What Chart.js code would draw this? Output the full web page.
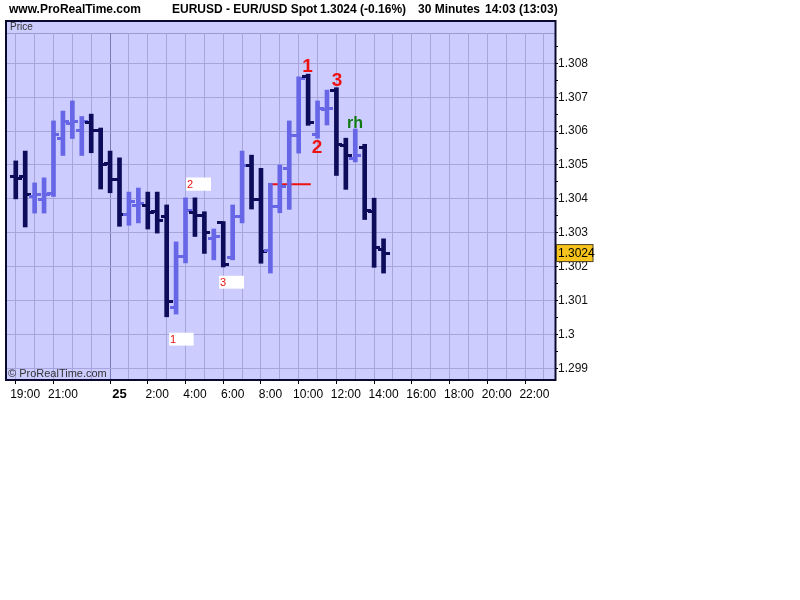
<!DOCTYPE html>
<html><head><meta charset="utf-8">
<script src="https://cdn.jsdelivr.net/npm/chart.js@4/dist/chart.umd.min.js"></script>
<style>html,body{margin:0;padding:0;background:#fff;}canvas{display:block;}</style>
</head><body><canvas id="c" width="800" height="600"></canvas>
<script>
// ---- data (30-minute OHLC bars, EUR/USD) ----
const times  = ["18:30","19:00","19:30","20:00","20:30","21:00","21:30","22:00","22:30","23:00","23:30",
                "00:00","00:30","01:00","01:30","02:00","02:30","03:00","03:30","04:00","04:30","05:00",
                "05:30","06:00","06:30","07:00","07:30","08:00","08:30","09:00","09:30","10:00","10:30",
                "11:00","11:30","12:00","12:30","13:00","13:30","14:00"];
const opens  = [1.30465,1.30465,1.30406,1.30397,1.30417,1.30577,1.30621,1.30603,1.30624,1.30603,1.30503,
                1.30456,1.30353,1.30379,1.30379,1.30364,1.30347,1.30078,1.30229,1.30361,1.30350,1.30282,
                1.30329,1.30226,1.30347,1.30497,1.30397,1.30249,1.30376,1.30491,1.30586,1.30760,1.30591,
                1.30665,1.30721,1.30556,1.30518,1.30553,1.30364,1.30252];
const highs  = [1.30512,1.30541,1.30447,1.30462,1.30630,1.30659,1.30689,1.30643,1.30650,1.30609,1.30541,
                1.30521,1.30420,1.30432,1.30420,1.30420,1.30382,1.30273,1.30403,1.30403,1.30362,1.30311,
                1.30333,1.30382,1.30541,1.30529,1.30490,1.30446,1.30500,1.30630,1.30760,1.30768,1.30689,
                1.30721,1.30728,1.30579,1.30606,1.30561,1.30402,1.30282];
const lows   = [1.30400,1.30317,1.30358,1.30358,1.30407,1.30528,1.30578,1.30528,1.30536,1.30429,1.30418,
                1.30319,1.30322,1.30329,1.30311,1.30299,1.30052,1.30060,1.30211,1.30289,1.30239,1.30220,
                1.30199,1.30220,1.30329,1.30370,1.30210,1.30181,1.30359,1.30369,1.30535,1.30617,1.30579,
                1.30618,1.30469,1.30428,1.30509,1.30339,1.30198,1.30181];
const closes = [1.30459,1.30412,1.30412,1.30412,1.30589,1.30627,1.30627,1.30627,1.30603,1.30500,1.30456,
                1.30353,1.30391,1.30385,1.30361,1.30335,1.30096,1.30229,1.30367,1.30350,1.30302,1.30288,
                1.30205,1.30347,1.30497,1.30397,1.30246,1.30376,1.30435,1.30586,1.30754,1.30624,1.30668,
                1.30668,1.30559,1.30527,1.30527,1.30367,1.30255,1.30240];
const lastPrice = 1.3024;

// x tick labels (hours relative to midnight of the 25th)
const xTickHours = [-5,-3,0,2,4,6,8,10,12,14,16,18,20,22];
const xTickText  = ["19:00","21:00","25","2:00","4:00","6:00","8:00","10:00","12:00","14:00","16:00","18:00","20:00","22:00"];
// y tick labels
const yTickValues = [1.299,1.300,1.301,1.302,1.303,1.304,1.305,1.306,1.307,1.308];
const yTickText   = ["1.299","1.3","1.301","1.302","1.303","1.304","1.305","1.306","1.307","1.308"];

// wave annotations
const markLabels = ["1","2","3","rh"];
const markHours  = [9.97,10.47,11.53,12.49];
const markPrices = [1.30789,1.30552,1.30748,1.30621];
const markColors = ["#ee1111","#ee1111","#ee1111","#117a11"];
// small boxed labels
const boxLabels = ["2","3","1"];
const boxHourStart = [3.53,5.28,2.63];
const boxHourEnd   = [4.85,6.60,3.93];
const boxPriceTop  = [1.30463,1.30173,1.30005];
const boxPriceBot  = [1.30424,1.30135,1.29967];
// red horizontal line
const lineHours  = [7.89,10.14];
const linePrices = [1.30443,1.30443];

// ---- helpers ----
function hourOf(t){ const [h,m]=t.split(":").map(Number); let v=h+m/60; return v>=18? v-24 : v; }
const DARK = "#0c0c5a", LIGHT = "#6666e6";
function isUp(i){ return closes[i] >= opens[i]; }
function tickCanvas(color, side){
  const c=document.createElement("canvas"); c.width=12; c.height=3;
  const g=c.getContext("2d"); g.fillStyle=color;
  if(side==="left") g.fillRect(0,0,6,3); else g.fillRect(6,0,6,3);
  return c;
}
const tk = { openDark:tickCanvas(DARK,"left"), openLight:tickCanvas(LIGHT,"left"),
             closeDark:tickCanvas(DARK,"right"), closeLight:tickCanvas(LIGHT,"right") };

const FONT = "'Liberation Sans', Arial, sans-serif";

const deco = {
  id:"deco",
  beforeDraw(chart){
    const ctx=chart.ctx, a=chart.chartArea;
    ctx.save();
    ctx.fillStyle="#ffffff"; ctx.fillRect(0,0,chart.width,chart.height);
    ctx.fillStyle="#ccccff"; ctx.fillRect(a.left-1, 21, a.right-a.left+1, a.bottom-21);
    ctx.strokeStyle="#9a9ad0"; ctx.lineWidth=1;
    ctx.beginPath(); ctx.moveTo(a.left, a.top+0.5); ctx.lineTo(a.right, a.top+0.5); ctx.stroke();
    ctx.fillStyle="#333"; ctx.font="10px "+FONT; ctx.textBaseline="middle"; ctx.textAlign="left";
    ctx.fillText("Price", 10, 27);
    ctx.fillStyle="#000"; ctx.font="bold 12px "+FONT; ctx.textBaseline="alphabetic";
    ctx.fillText("www.ProRealTime.com", 9, 13);
    ctx.fillText("EURUSD - EUR/USD Spot", 172, 13);
    ctx.fillText("1.3024 (-0.16%)", 320, 13);
    ctx.fillText("30 Minutes", 418, 13);
    ctx.fillText("14:03 (13:03)", 485, 13);
    ctx.restore();
  },
  afterDatasetsDraw(chart){
    const ctx=chart.ctx, xs=chart.scales.x, ys=chart.scales.y;
    ctx.save();
    for(let i=0;i<boxLabels.length;i++){
      const x0=xs.getPixelForValue(boxHourStart[i]), x1=xs.getPixelForValue(boxHourEnd[i]);
      const y0=ys.getPixelForValue(boxPriceTop[i]), y1=ys.getPixelForValue(boxPriceBot[i]);
      ctx.fillStyle="#ffffff"; ctx.fillRect(x0,y0,x1-x0,y1-y0);
      ctx.fillStyle="#ee1111"; ctx.font="11px "+FONT; ctx.textAlign="left"; ctx.textBaseline="middle";
      ctx.fillText(boxLabels[i], x0+1, (y0+y1)/2+0.5);
    }
    for(let i=0;i<markLabels.length;i++){
      const x=xs.getPixelForValue(markHours[i]), y=ys.getPixelForValue(markPrices[i]);
      ctx.fillStyle=markColors[i];
      ctx.font=(markLabels[i]==="rh"?"bold 16px ":"bold 19px ")+FONT;
      ctx.textAlign="center"; ctx.textBaseline="middle";
      ctx.fillText(markLabels[i], x, y);
    }
    ctx.restore();
  },
  afterDraw(chart){
    const ctx=chart.ctx, a=chart.chartArea, ys=chart.scales.y;
    ctx.save();
    ctx.fillStyle="#333"; ctx.font="11px "+FONT; ctx.textAlign="left"; ctx.textBaseline="middle";
    ctx.fillText("\u00A9 ProRealTime.com", 8, 374);
    ctx.strokeStyle="#0a0a30"; ctx.lineWidth=2;
    ctx.strokeRect(a.left-1, 21, a.right-a.left+1.5, a.bottom-21);
    const py=ys.getPixelForValue(lastPrice);
    ctx.fillStyle="#f6c41c"; ctx.fillRect(556.5, py-8.5, 36.5, 17);
    ctx.strokeStyle="#4a4020"; ctx.lineWidth=1; ctx.strokeRect(556.5, py-8.5, 36.5, 17);
    ctx.fillStyle="#000"; ctx.font="12px "+FONT; ctx.textBaseline="middle";
    ctx.fillText("1.3024", 558, py+0.5);
    ctx.restore();
  }
};

const barData   = times.map((t,i)=>({x:hourOf(t), y:[lows[i],highs[i]]}));
const openData  = times.map((t,i)=>({x:hourOf(t), y:opens[i]}));
const closeData = times.map((t,i)=>({x:hourOf(t), y:closes[i]}));

new Chart(document.getElementById("c"), {
  data:{
    datasets:[
      {type:"bar", data:barData, barThickness:4, borderWidth:0, grouped:false,
       backgroundColor: c => isUp(c.dataIndex)?LIGHT:DARK},
      {type:"line", data:openData, showLine:false, pointRadius:3,
       pointStyle: c => isUp(c.dataIndex)?tk.openLight:tk.openDark},
      {type:"line", data:closeData, showLine:false, pointRadius:3,
       pointStyle: c => isUp(c.dataIndex)?tk.closeLight:tk.closeDark},
      {type:"line", data:lineHours.map((h,i)=>({x:h,y:linePrices[i]})), borderColor:"#ee1111",
       borderWidth:2, pointRadius:0}
    ]
  },
  options:{
    responsive:false, animation:false, events:[], devicePixelRatio:1,
    layout:{padding:{left:7, top:33, right:0, bottom:0}},
    plugins:{legend:{display:false}, tooltip:{enabled:false}},
    scales:{
      x:{type:"linear", min:-5.965, max:23.09, offset:false,
         afterBuildTicks: s => { s.ticks=[]; for(let h=-5; h<=23; h++) s.ticks.push({value:h}); },
         afterFit: s => { s.height = 220; },
         border:{display:false},
         grid:{color: c => (c.tick && c.tick.value===0) ? "#7a7ab4" : "#a6a6dc", lineWidth:1,
               tickColor: c => (c.tick && xTickHours.includes(c.tick.value)) ? "#000" : "rgba(0,0,0,0)",
               tickLength:4},
         ticks:{autoSkip:false, maxRotation:0, padding:3, color:"#000",
                callback: v => { const i=xTickHours.indexOf(v); return i>=0? xTickText[i] : ""; },
                font: c => (c.tick && c.tick.value===0) ? {family:FONT, size:13, weight:"bold"} : {family:FONT, size:12}}
      },
      y:{type:"linear", position:"right", min:1.298655, max:1.308894,
         afterBuildTicks: s => { s.ticks=[]; for(let k=0;k<=19;k++) s.ticks.push({value: +(1.299 + k*0.0005).toFixed(4)}); },
         afterFit: s => { s.width = 245; },
         border:{display:false},
         grid:{color: c => { const v=c.tick? c.tick.value:0; return yTickValues.some(t=>Math.abs(t-v)<1e-7) ? "#a6a6dc" : "rgba(0,0,0,0)"; },
               tickColor:"#000", tickLength:3},
         ticks:{padding:0, color:"#111", font:{family:FONT, size:12},
                callback: v => { const i=yTickValues.findIndex(t=>Math.abs(t-v)<1e-7); return i>=0? yTickText[i] : ""; }}
      }
    }
  },
  plugins:[deco]
});
</script>
</body></html>
